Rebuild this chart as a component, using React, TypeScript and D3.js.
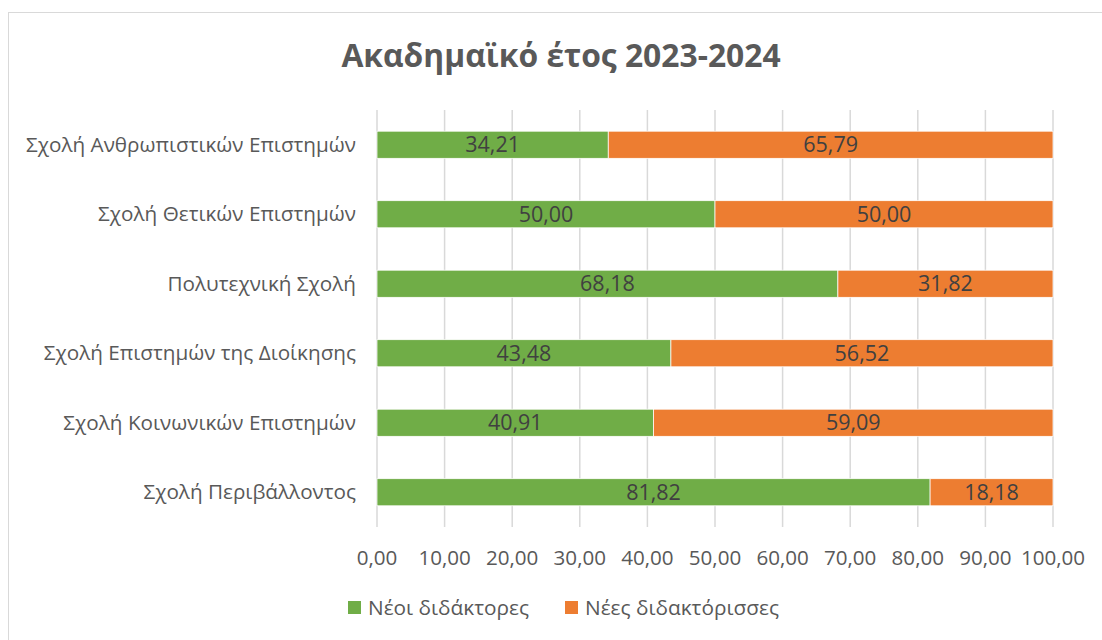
import React from 'react';
import * as d3 from 'd3';

const categories = [
  'Σχολή Ανθρωπιστικών Επιστημών',
  'Σχολή Θετικών Επιστημών',
  'Πολυτεχνική Σχολή',
  'Σχολή Επιστημών της Διοίκησης',
  'Σχολή Κοινωνικών Επιστημών',
  'Σχολή Περιβάλλοντος',
];
const seriesNames = ['Νέοι διδάκτορες', 'Νέες διδακτόρισσες'];
const men = [34.21, 50.0, 68.18, 43.48, 40.91, 81.82];
const women = [65.79, 50.0, 31.82, 56.52, 59.09, 18.18];
const ticks = [0, 10, 20, 30, 40, 50, 60, 70, 80, 90, 100];

const colors = ['#70ad47', '#ed7d31'];
const font = '"Open Sans", "Noto Sans", sans-serif';
const fmt = (v: number) => v.toFixed(2).replace('.', ',');

export default function App() {
  const W = 1102, H = 640;
  const x = d3.scaleLinear().domain([0, 100]).range([377, 1053]);
  const y = d3.scaleBand().domain(categories).range([110, 527]).paddingInner(0.61).paddingOuter(0.305);

  const rows = categories.map((c, i) => ({ c, vals: [men[i], women[i]] }));

  return (
    <svg width={W} height={H} style={{ position: 'absolute', left: 0, top: 0 }} fontFamily={font}>
      <rect x={0} y={0} width={W} height={H} fill="#fff" />
      <rect x={8.5} y={12.5} width={1200} height={700} fill="#fff" stroke="#d9d9d9" />
      <text x={561} y={67} textAnchor="middle" fontSize={31.8} fontWeight="bold" fill="#595959">
        Ακαδημαϊκό έτος 2023-2024
      </text>
      {ticks.map(t => (
        <g key={t}>
          <line x1={x(t)} x2={x(t)} y1={110} y2={527} stroke="#d9d9d9" strokeWidth={1.5} />
          <text x={x(t)} y={565} textAnchor="middle" fontSize={20.6} fill="#595959">{fmt(t)}</text>
        </g>
      ))}
      {rows.map(r => {
        let acc = 0;
        const y0 = y(r.c)!;
        return (
          <g key={r.c}>
            <text x={356} y={y0 + y.bandwidth() / 2} dy="0.35em" textAnchor="end" fontSize={20.7} fill="#595959">{r.c}</text>
            {r.vals.map((v, j) => {
              const start = acc;
              acc += v;
              return (
                <g key={j}>
                  <rect x={x(start)} y={y0} width={x(start + v) - x(start)} height={y.bandwidth()} fill={colors[j]} stroke="#fff" strokeWidth={0.75} />
                  <text x={(x(start) + x(start + v)) / 2} y={y0 + y.bandwidth() / 2} dy="0.36em" textAnchor="middle" fontSize={21.5} fill="#404040">{fmt(v)}</text>
                </g>
              );
            })}
          </g>
        );
      })}
      {seriesNames.map((s, i) => {
        const lx = i === 0 ? 348 : 565;
        return (
          <g key={s}>
            <rect x={lx} y={601} width={13} height={13} fill={colors[i]} />
            <text x={lx + 20} y={607.5} dy="0.36em" fontSize={20.8} fill="#595959">{s}</text>
          </g>
        );
      })}
    </svg>
  );
}
